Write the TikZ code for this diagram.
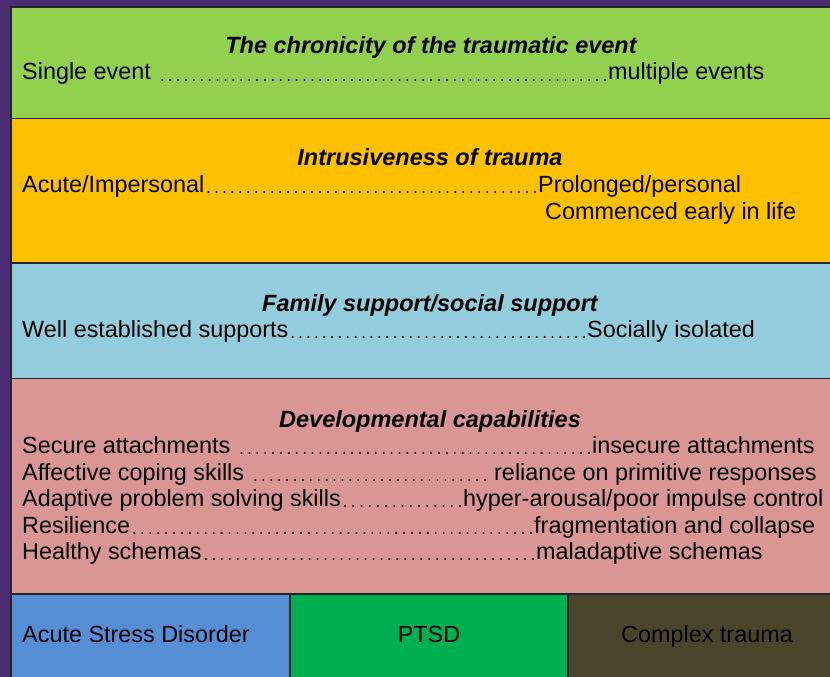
\documentclass[tikz,border=0pt]{standalone}
\usepackage{fontspec}
\setmainfont{Liberation Sans}
\usetikzlibrary{decorations}
\definecolor{slidepurple}{HTML}{4B2B74}
\definecolor{chronicgreen}{HTML}{92D050}
\definecolor{intrusiveorange}{HTML}{FFC000}
\definecolor{supportblue}{HTML}{93CDDD}
\definecolor{capabilitypink}{HTML}{D99694}
\definecolor{asdblue}{HTML}{558ED5}
\definecolor{ptsdgreen}{HTML}{00B050}
\definecolor{complexolive}{HTML}{4A452A}
\tikzset{
	band/.style={draw=black!85, line width=1.5pt},
	heading/.style={font=\fontsize{23.5}{27}\selectfont\bfseries\itshape, inner sep=0pt, anchor=base},
	entry/.style={font=\fontsize{23.4}{27}\selectfont, inner sep=0pt, anchor=base west},
	label/.style={font=\fontsize{23.4}{27}\selectfont, inner sep=0pt, anchor=base},
	leader/.style={line width=2.3pt, line cap=round, dash pattern=on 0pt off 7.8pt, dash expand off, yshift=1.2pt}
}

\begin{document}
\begin{tikzpicture}[x=1pt, y=-1pt]
			%%%%% START %%%%%
			
			\useasboundingbox (0, 0) rectangle (830, 677);
			\fill[slidepurple] (0, 0) rectangle (830, 677);
			
			\draw[band, fill=chronicgreen] (11, 7) rectangle (834, 118.5);
			\draw[band, fill=intrusiveorange] (11, 118.5) rectangle (834, 263);
			\draw[band, fill=supportblue] (11, 263) rectangle (834, 378.5);
			\draw[band, fill=capabilitypink] (11, 378.5) rectangle (834, 594);
			
			\draw[band, fill=asdblue] (11, 594) rectangle (290, 681);
			\draw[band, fill=ptsdgreen] (290, 594) rectangle (568, 681);
			\draw[band, fill=complexolive] (568, 594) rectangle (834, 681);
			
			\node[heading] (chron) at (431, 54) {The chronicity of the traumatic event};
			\node[entry] (single) at (22, 80) {Single event};
			\node[entry] (multiple) at (608, 80) {multiple events};
			\draw[leader] ([xshift=11pt]single.base east) -- ([xshift=-3pt]multiple.base west);
			
			\node[heading] (intrus) at (430, 165) {Intrusiveness of trauma};
			\node[entry] (acute) at (22, 192) {Acute/Impersonal};
			\node[entry] (prolonged) at (538, 192) {Prolonged/personal};
			\node[entry] (early) at (545, 219) {Commenced early in life};
			\draw[leader] ([xshift=4pt]acute.base east) -- ([xshift=-3pt]prolonged.base west);
			
			\node[heading] (family) at (430, 311) {Family support/social support};
			\node[entry] (wellsup) at (22, 337) {Well established supports};
			\node[entry] (isolated) at (587, 337) {Socially isolated};
			\draw[leader] ([xshift=4pt]wellsup.base east) -- ([xshift=-3pt]isolated.base west);
			
			\node[heading] (develop) at (430, 427) {Developmental capabilities};
			\node[entry] (secure) at (22, 453) {Secure attachments};
			\node[entry] (insecure) at (592, 453) {insecure attachments};
			\draw[leader] ([xshift=11pt]secure.base east) -- ([xshift=-3pt]insecure.base west);
			\node[entry] (coping) at (22, 480) {Affective coping skills};
			\node[entry] (reliance) at (494, 480) {reliance on primitive responses};
			\draw[leader] ([xshift=11pt]coping.base east) -- ([xshift=-9pt]reliance.base west);
			\node[entry] (solving) at (22, 506) {Adaptive problem solving skills};
			\node[entry] (arousal) at (463, 506) {hyper-arousal/poor impulse control};
			\draw[leader] ([xshift=4pt]solving.base east) -- ([xshift=-3pt]arousal.base west);
			\node[entry] (resil) at (22, 533) {Resilience};
			\node[entry] (fragment) at (534, 533) {fragmentation and collapse};
			\draw[leader] ([xshift=4pt]resil.base east) -- ([xshift=-3pt]fragment.base west);
			\node[entry] (healthy) at (22, 559) {Healthy schemas};
			\node[entry] (maladapt) at (536, 559) {maladaptive schemas};
			\draw[leader] ([xshift=4pt]healthy.base east) -- ([xshift=-3pt]maladapt.base west);
			
			\node[entry] (asd) at (22, 642) {Acute Stress Disorder};
			\node[label] (ptsd) at (429, 642) {PTSD};
			\node[label] (complex) at (707, 642) {Complex trauma};
			
			%%%%% END %%%%%
\end{tikzpicture}
\end{document}
